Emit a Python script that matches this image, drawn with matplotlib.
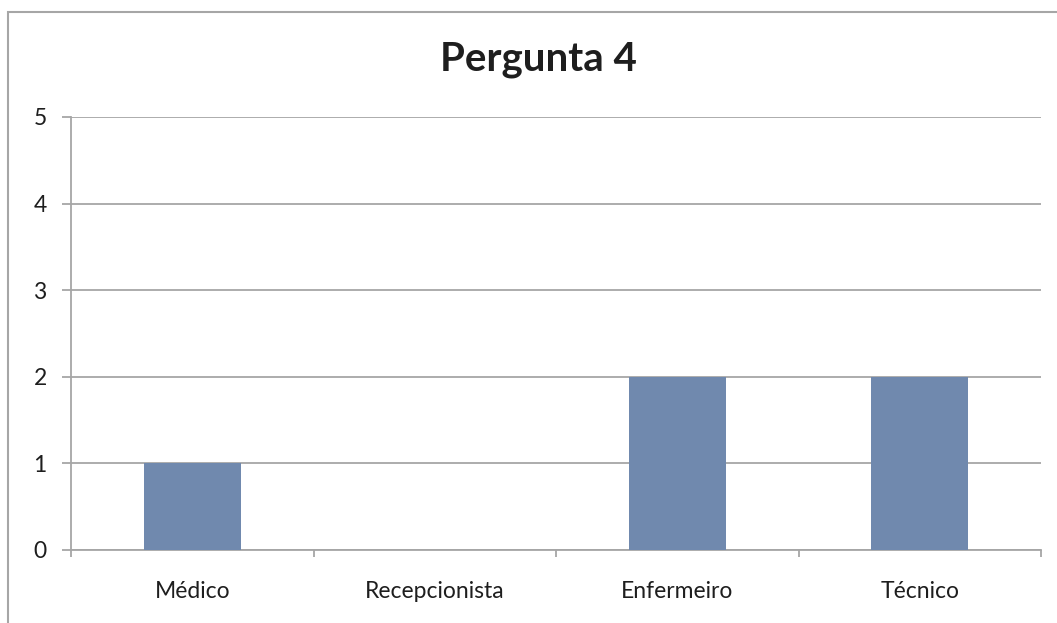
import matplotlib
matplotlib.use('Agg')
from matplotlib import pyplot as plt
from matplotlib.patches import Rectangle

categorias = ['Médico', 'Recepcionista', 'Enfermeiro', 'Técnico']
respostas = [1, 0, 2, 2]
yticks = [0, 1, 2, 3, 4, 5]

cinza = '#A6A6A6'
barra = '#7089AE'
texto = '#1E1E1E'

plt.rcParams['font.family'] = ['Lato', 'DejaVu Sans']

fig = plt.figure(figsize=(10.57, 6.23), dpi=100)
ax = fig.add_axes([71/1057, 1 - 550/623, 970/1057, 433/623])

# moldura do gráfico
fig.add_artist(Rectangle((8/1057, -0.1), 1.2, 1 - 12/623 + 0.1, transform=fig.transFigure,
                         fill=False, edgecolor=cinza, linewidth=1.5))

x = range(len(categorias))
ax.bar(x, respostas, width=0.4, color=barra, zorder=3)

ax.set_xlim(-0.5, len(categorias) - 0.5)
ax.set_ylim(0, 5)
ax.set_yticks(yticks)
ax.set_xticks(list(x))
ax.set_xticklabels(categorias)
ax.set_xticks([i - 0.5 for i in range(len(categorias) + 1)], minor=True)

ax.grid(axis='y', color=cinza, linewidth=1.3, zorder=0)
ax.set_axisbelow(True)
for s in ['top', 'right']:
    ax.spines[s].set_visible(False)
for s in ['left', 'bottom']:
    ax.spines[s].set_color(cinza)
    ax.spines[s].set_linewidth(1.3)

ax.tick_params(axis='y', length=6.5, width=1.3, color=cinza, pad=11, labelsize=16.5, labelcolor=texto)
ax.tick_params(axis='x', which='major', length=0, pad=22, labelsize=16.5, labelcolor=texto)
ax.tick_params(axis='x', which='minor', length=5, width=1.3, color=cinza)

fig.text(538/1057, 1 - 59/623, 'Pergunta 4', ha='center', va='center',
         fontsize=29, fontweight='bold', color=texto)

plt.savefig('out.png', dpi=100)
